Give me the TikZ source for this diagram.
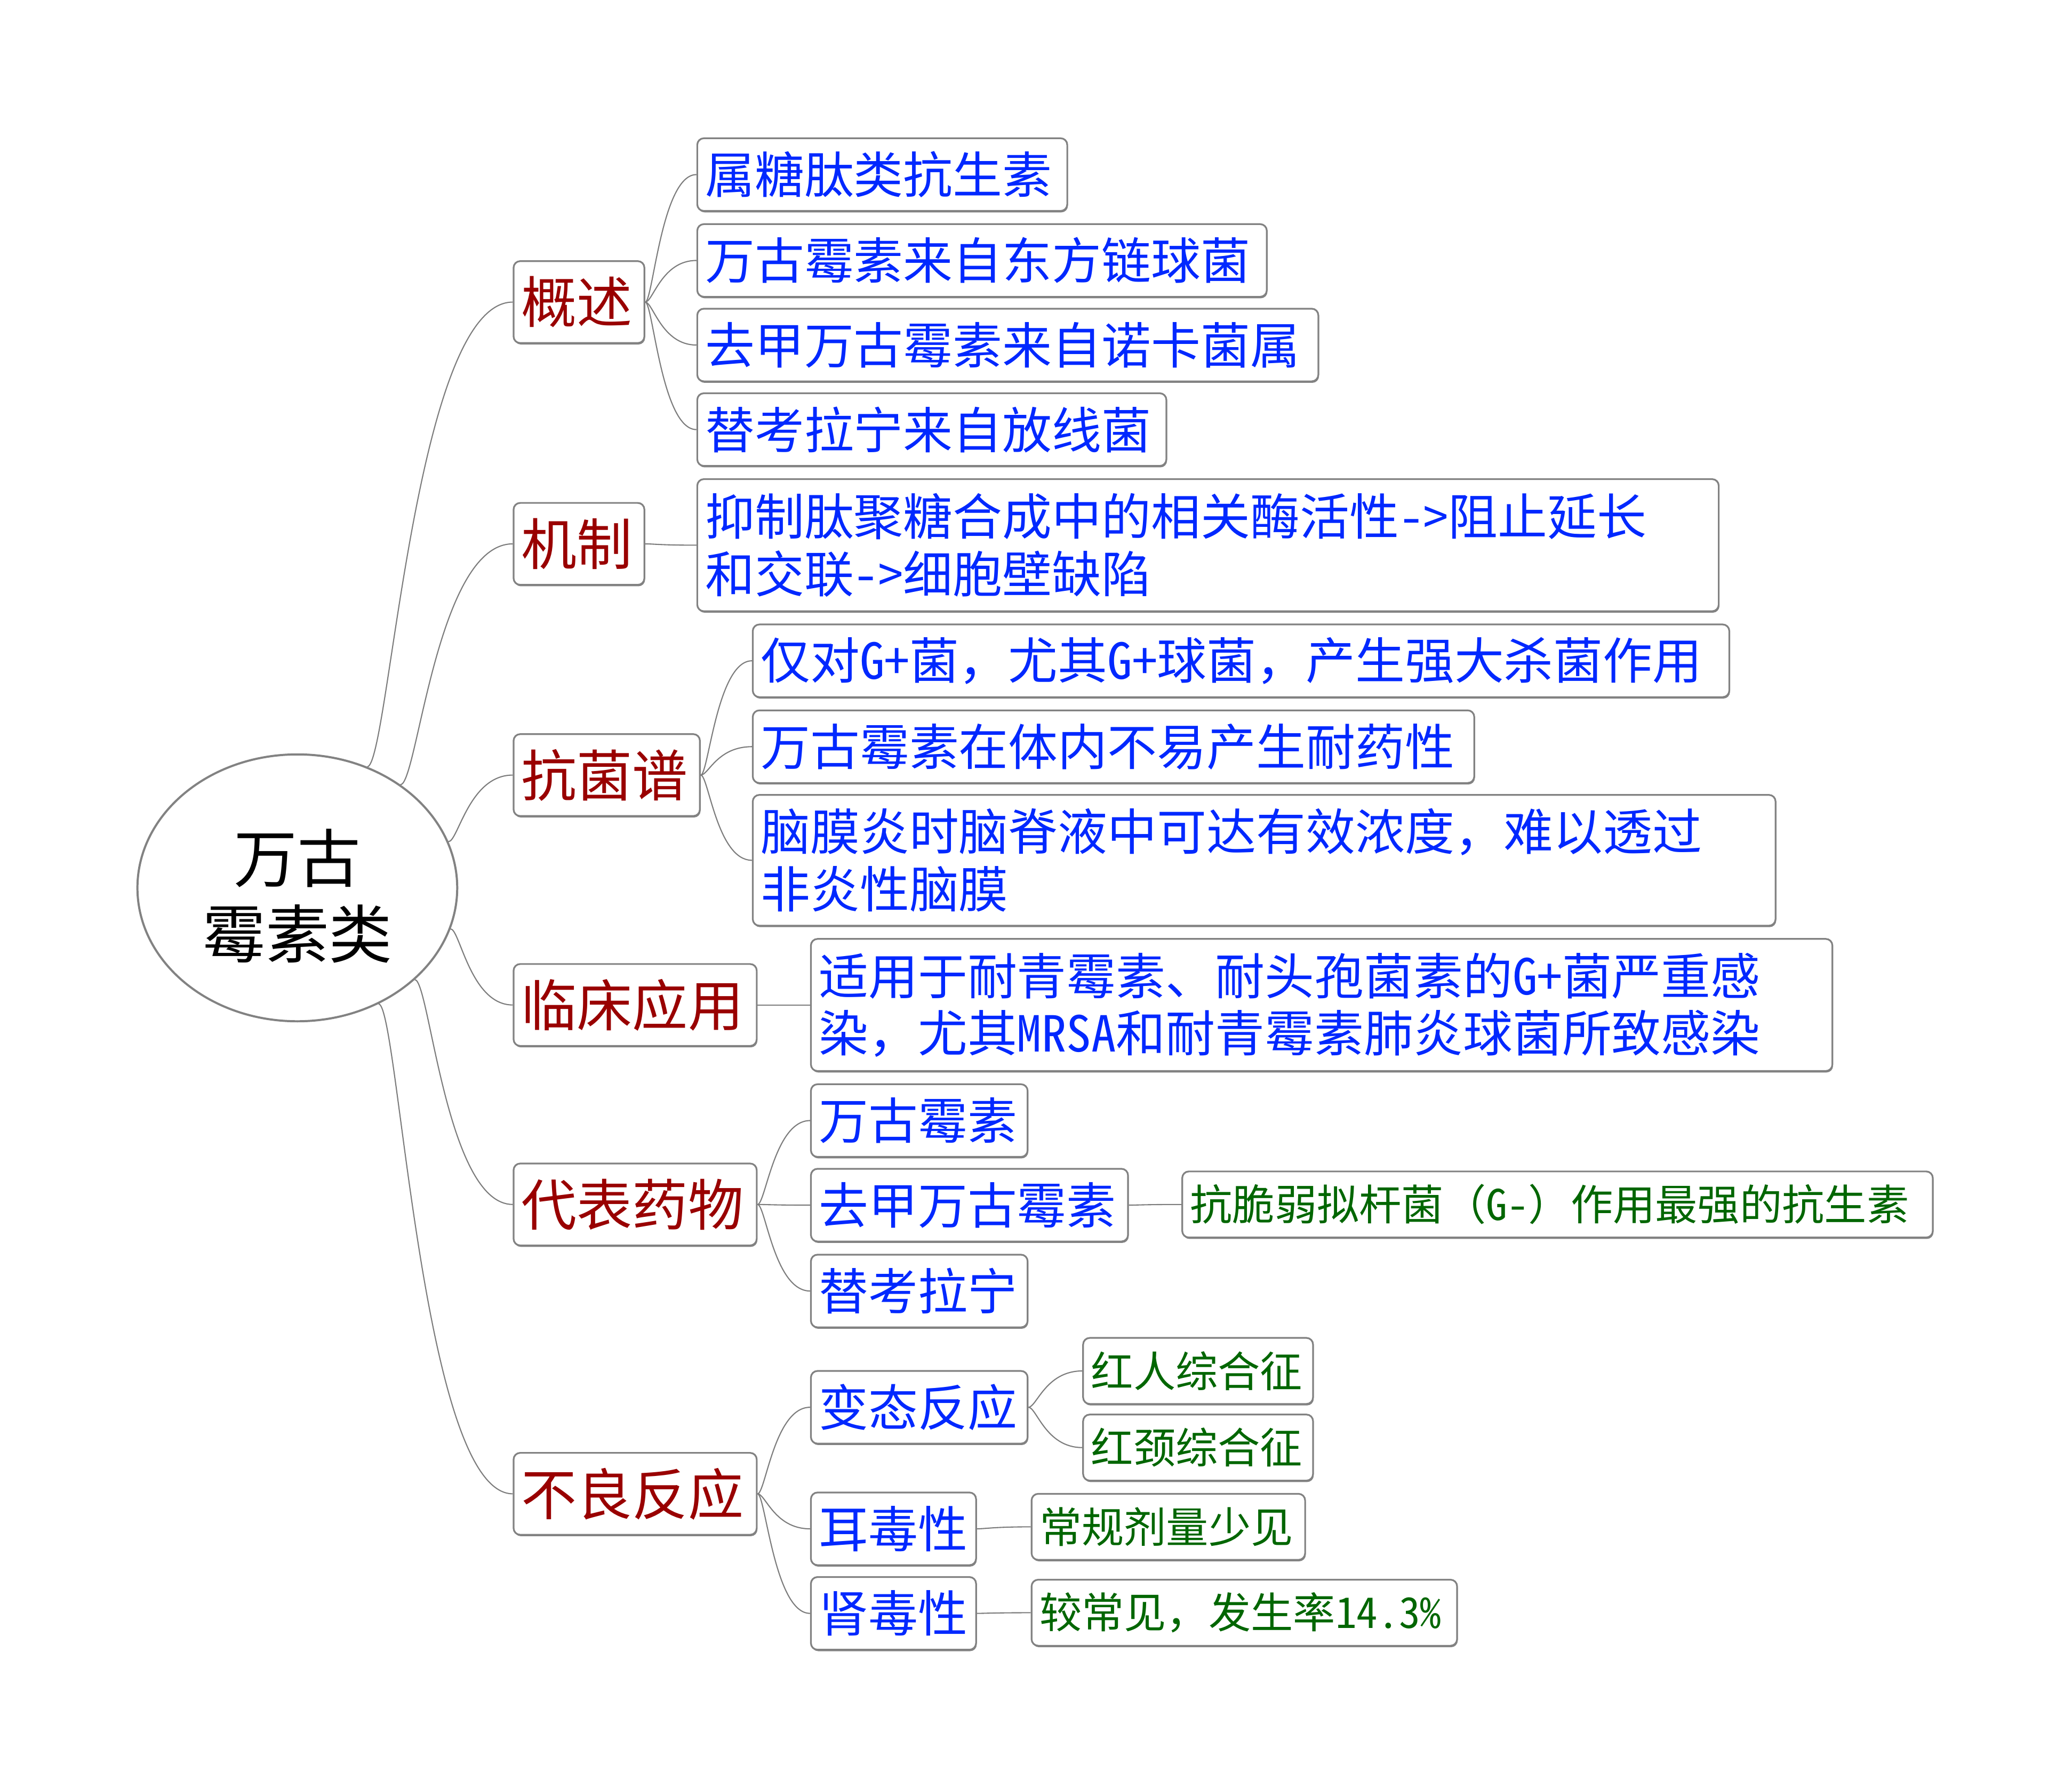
\documentclass[tikz,border=0pt]{standalone}
\usepackage{fontspec}
\setmainfont{Noto Sans CJK SC}
\newfontfamily\halfw{Noto Sans CJK SC}[RawFeature=+hwid]
\usetikzlibrary{calc,shadows,shapes.geometric}

\definecolor{edgegray}{HTML}{828282}
\definecolor{tiegray}{HTML}{7C7C7C}
\definecolor{topred}{HTML}{990000}
\definecolor{itemblue}{RGB}{0,40,255}
\definecolor{notegreen}{HTML}{006600}

\newcommand\rootfont{\fontsize{48}{57}\selectfont}
\newcommand\catfont{\fontsize{42}{48}\selectfont}
\newcommand\itemfont{\fontsize{37.5}{43.5}\selectfont}
\newcommand\notefont{\fontsize{32}{38}\selectfont}
\newcommand\lat[1]{{\halfw #1}}

% curved link: leaves the parent horizontally, enters the child horizontally
\newcommand\tie[2]{\draw[tie] let \p1=(#1), \p2=(#2) in
  (\p1) .. controls ({0.85*\x1+0.15*\x2},\y1) and ({0.68*\x1+0.32*\x2},\y2) .. (\p2);}

\tikzset{
  box/.style={draw=edgegray, line width=1.3pt, rounded corners=5pt, fill=white,
    inner xsep=6pt, inner ysep=0pt, anchor=north west, align=left,
    drop shadow={shadow xshift=0.5pt, shadow yshift=-1.1pt, fill=edgegray, opacity=1}},
  cat/.style={box, font=\catfont, text=topred, minimum height=62pt},
  item/.style={box, font=\itemfont, text=itemblue, minimum height=55pt},
  note/.style={box, font=\notefont, text=notegreen, minimum height=50pt},
  tie/.style={draw=tiegray, line width=0.85pt},
}

\begin{document}
\begin{tikzpicture}[x=1pt, y=-1pt]
\fill[white] (0,0) rectangle (1568,1354);
\useasboundingbox (0,0) rectangle (1568,1354);

% centre
\node[ellipse, draw=edgegray, line width=1.6pt, fill=white, minimum width=242pt,
  minimum height=202pt, font=\rootfont, inner sep=0pt] (root) at (225,672)
  {\raisebox{-19pt}[0pt][0pt]{\begin{tabular}{@{}c@{}}万古\\霉素类\end{tabular}}};

% main branches
\node[cat, text width=87pt]  (gs) at (388,197)  {概述};
\node[cat, text width=87pt]  (jz) at (388,380)  {机制};
\node[cat, text width=129pt] (kj) at (388,555)  {抗菌谱};
\node[cat, text width=172pt] (lc) at (388,729)  {临床应用};
\node[cat, text width=172pt] (db) at (388,880)  {代表药物};
\node[cat, text width=172pt] (bl) at (388,1099) {不良反应};

% overview
\node[item, text width=268pt] (gs1) at (527,104) {属糖肽类抗生素};
\node[item, text width=419pt] (gs2) at (527,169) {万古霉素来自东方链球菌};
\node[item, text width=458pt] (gs3) at (527,233) {去甲万古霉素来自诺卡菌属};
\node[item, text width=343pt] (gs4) at (527,297) {替考拉宁来自放线菌};

% mechanism
\node[item, text width=761pt, minimum height=100pt] (jz1) at (527,362)
  {抑制肽聚糖合成中的相关酶活性\lat{->}阻止延长\\和交联\lat{->}细胞壁缺陷};

% spectrum
\node[item, text width=727pt] (kj1) at (569,472) {仅对\lat{G+}菌，尤其\lat{G+}球菌，产生强大杀菌作用};
\node[item, text width=534pt] (kj2) at (569,537) {万古霉素在体内不易产生耐药性};
\node[item, text width=762pt, minimum height=99pt] (kj3) at (569,601)
  {脑膜炎时脑脊液中可达有效浓度，难以透过\\非炎性脑膜};

% clinical use
\node[item, text width=761pt, minimum height=100pt] (lc1) at (613,710)
  {适用于耐青霉素、耐头孢菌素的\lat{G+}菌严重感\\染，尤其\lat{MRSA}和耐青霉素肺炎球菌所致感染};

% representative drugs
\node[item, text width=152pt] (db1) at (613,820) {万古霉素};
\node[item, text width=228pt] (db2) at (613,884) {去甲万古霉素};
\node[item, text width=152pt] (db3) at (613,949) {替考拉宁};
\node[note, text width=556pt] (db2a) at (894,886) {抗脆弱拟杆菌（\lat{G-}）作用最强的抗生素};

% adverse reactions
\node[item, text width=152pt] (bl1) at (613,1037) {变态反应};
\node[item, text width=113pt] (bl2) at (613,1129) {耳毒性};
\node[item, text width=113pt] (bl3) at (613,1193) {肾毒性};
\node[note, text width=162pt] (bl1a) at (819,1012) {红人综合征};
\node[note, text width=162pt] (bl1b) at (819,1070) {红颈综合征};
\node[note, text width=195pt] (bl2a) at (780,1130) {常规剂量少见};
\node[note, text width=310pt] (bl3a) at (780,1195) {较常见，发生率\lat{14.3\%}};

% links
\tie{root.60}{gs.west}
\tie{root.45}{jz.west}
\tie{root.17}{kj.west}
\tie{root.-15}{lc.west}
\tie{root.-38}{db.west}
\tie{root.-55}{bl.west}

\tie{gs.east}{gs1.west}
\tie{gs.east}{gs2.west}
\tie{gs.east}{gs3.west}
\tie{gs.east}{gs4.west}
\tie{jz.east}{jz1.west}
\tie{kj.east}{kj1.west}
\tie{kj.east}{kj2.west}
\tie{kj.east}{kj3.west}
\tie{lc.east}{lc1.west}
\tie{db.east}{db1.west}
\tie{db.east}{db2.west}
\tie{db.east}{db3.west}
\tie{db2.east}{db2a.west}
\tie{bl.east}{bl1.west}
\tie{bl.east}{bl2.west}
\tie{bl.east}{bl3.west}
\tie{bl1.east}{bl1a.west}
\tie{bl1.east}{bl1b.west}
\tie{bl2.east}{bl2a.west}
\tie{bl3.east}{bl3a.west}
\end{tikzpicture}
\end{document}
